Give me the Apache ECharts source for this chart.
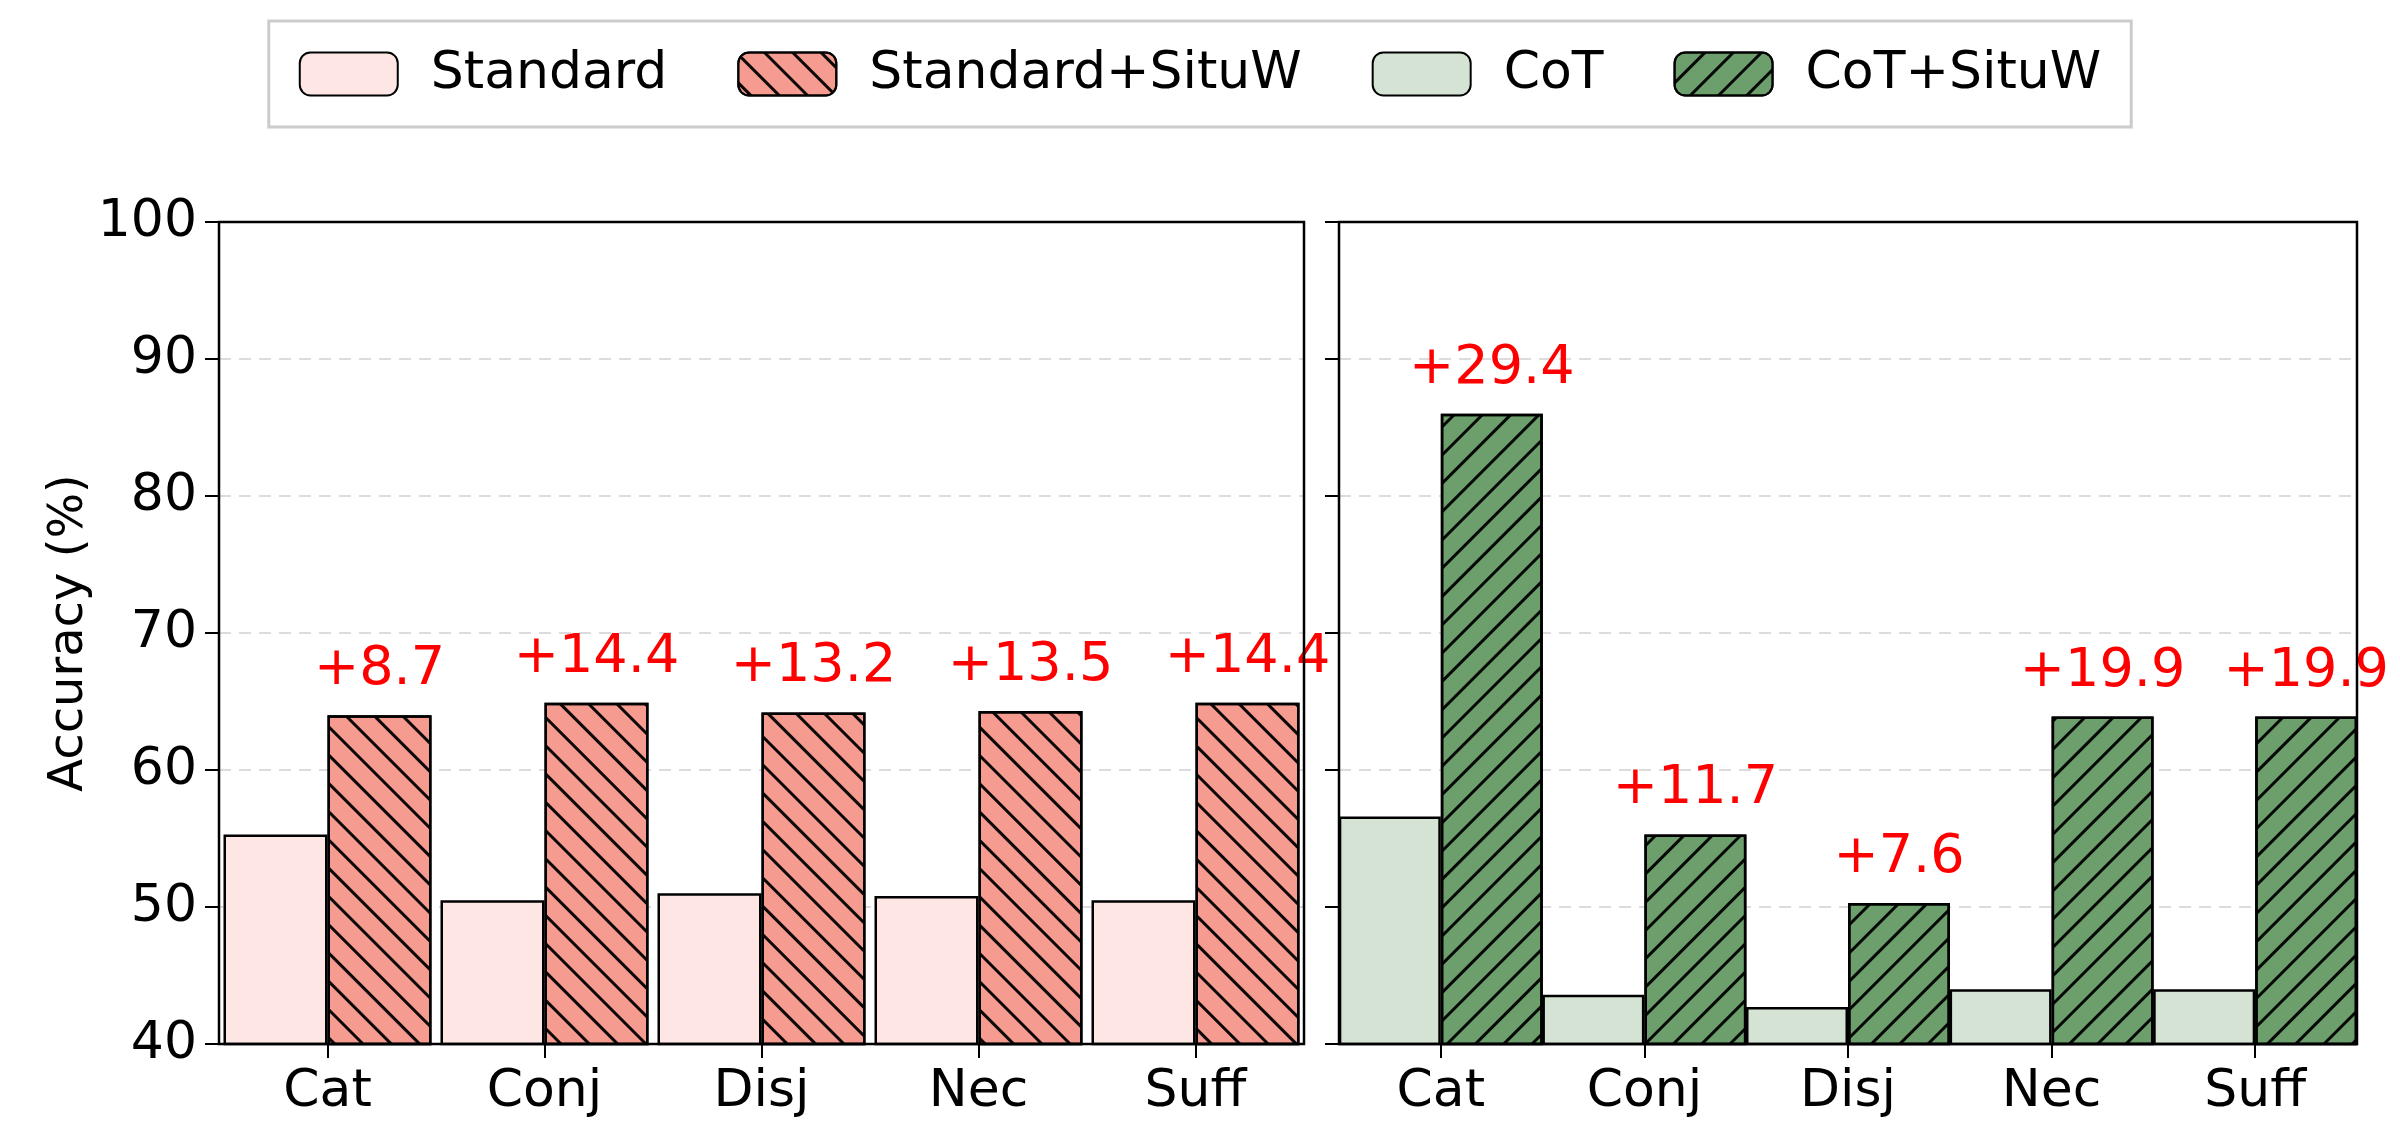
<!DOCTYPE html>
<html><head><meta charset="utf-8">
<script src="https://cdn.jsdelivr.net/npm/echarts@6/dist/echarts.min.js"></script>
<style>html,body{margin:0;padding:0;background:#fff}#c{width:2400px;height:1144px}</style>
</head><body><div id="c"></div>
<script>
const categories = ['Cat','Conj','Disj','Nec','Suff'];
const standard = [55.3,50.5,51.0,50.8,50.5];
const standardSituW = [64.0,64.9,64.2,64.3,64.9];
const standardGain = ['+8.7','+14.4','+13.2','+13.5','+14.4'];
const cot = [56.6,43.6,42.7,44.0,44.0];
const cotSituW = [86.0,55.3,50.3,63.9,63.9];
const cotGain = ['+29.4','+11.7','+7.6','+19.9','+19.9'];

const chart = echarts.init(document.getElementById('c'));
const F = 'DejaVu Sans';
function hatch(rot){return {symbol:'rect',color:'rgba(0,0,0,0.95)',dashArrayX:[1,0],dashArrayY:[2.5,17],rotation:rot,symbolSize:1};}
function yAxis(i, showLabel){
  return {type:'value',gridIndex:i,min:40,max:100,interval:10,
    name: showLabel?'Accuracy (%)':'',nameLocation:'middle',nameGap:118,
    nameTextStyle:{fontFamily:F,fontSize:48,color:'#000'},
    axisLine:{show:true,lineStyle:{color:'#000',width:2}},
    axisTick:{show:true,inside:false,length:14,lineStyle:{color:'#000',width:2}},
    axisLabel:{show:showLabel,fontFamily:F,fontSize:52,color:'#000',margin:22},
    splitLine:{show:true,lineStyle:{type:[12,8],color:'#dcdcdc',width:2}}};
}
function xAxis(i){
  return {type:'category',gridIndex:i,data:categories,
    axisLine:{show:true,lineStyle:{color:'#000',width:2}},
    axisTick:{show:true,alignWithLabel:true,length:14,lineStyle:{color:'#000',width:2}},
    axisLabel:{fontFamily:F,fontSize:52,color:'#000',margin:22}};
}
const lab = (arr)=>({show:true,position:'top',distance:18,fontFamily:F,fontSize:54,color:'#ff0000',formatter:p=>arr[p.dataIndex]});
const bs = {borderColor:'#000',borderWidth:2.5};
chart.setOption({
  animation:false,
  legend:{top:21,left:'center',itemWidth:98,itemHeight:43,itemGap:70,padding:[27,30],
    borderColor:'#cccccc',borderWidth:3,
    textStyle:{fontFamily:F,fontSize:52,color:'#000',padding:[0,0,0,28]},
    data:['Standard','Standard+SituW','CoT','CoT+SituW']},
  grid:[
    {left:219,width:1085,top:222,bottom:100,show:true,borderColor:'#000',borderWidth:2.5,z:5},
    {left:1339,width:1018,top:222,bottom:100,show:true,borderColor:'#000',borderWidth:2.5,z:5}
  ],
  xAxis:[xAxis(0),xAxis(1)],
  yAxis:[yAxis(0,true),yAxis(1,false)],
  series:[
    {name:'Standard',type:'bar',xAxisIndex:0,yAxisIndex:0,data:standard,barWidth:104,barGap:'0%',
      itemStyle:Object.assign({color:'#fde6e3'},bs)},
    {name:'Standard+SituW',type:'bar',xAxisIndex:0,yAxisIndex:0,data:standardSituW,barWidth:104,barGap:'0%',
      itemStyle:Object.assign({color:'#f59b90',decal:hatch(Math.PI/4)},bs),label:lab(standardGain)},
    {name:'CoT',type:'bar',xAxisIndex:1,yAxisIndex:1,data:cot,barWidth:102,barGap:'0%',
      itemStyle:Object.assign({color:'#d4e3d3'},bs)},
    {name:'CoT+SituW',type:'bar',xAxisIndex:1,yAxisIndex:1,data:cotSituW,barWidth:102,barGap:'0%',
      itemStyle:Object.assign({color:'#6d9f6d',decal:hatch(-Math.PI/4)},bs),label:lab(cotGain)}
  ]
});
</script></body></html>
